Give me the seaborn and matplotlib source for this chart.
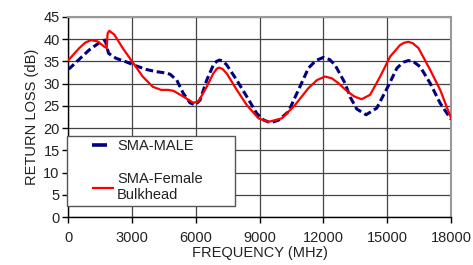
import matplotlib
matplotlib.use("Agg")
import matplotlib.pyplot as plt
import seaborn as sns
import pandas as pd
from matplotlib.lines import Line2D
from matplotlib.legend_handler import HandlerBase

male_freq = [0, 90, 530, 1000, 1470, 1750, 1820, 1910, 2260, 2730, 3200, 3670, 4140,
             4600, 4800, 5110, 5420, 5735, 5970, 6205, 6520, 6830, 6980, 7115, 7280,
             7460, 7930, 8400, 8870, 9200, 9520, 9900, 10360, 10830, 11300, 11650,
             12000, 12300, 12550, 13020, 13260, 13570, 14010, 14510, 15000, 15460,
             15750, 16000, 16250, 16550, 17020, 17490, 18000]
male_rl = [33.3, 33.5, 35.5, 37.6, 39.2, 39.8, 38.3, 36.8, 35.7, 34.9, 34.0, 33.2, 32.7,
           32.4, 32.1, 30.8, 27.8, 25.7, 25.2, 26.3, 30.8, 34.2, 35.0, 35.3, 35.1,
           34.2, 30.8, 27.1, 23.3, 21.8, 21.2, 21.8, 23.7, 28.6, 33.5, 35.2,
           35.9, 35.4, 34.2, 30.1, 27.0, 24.3, 23.0, 24.5, 29.0, 33.5,
           34.8, 35.2, 34.9, 33.8, 30.1, 25.6, 22.0]

female_freq = [0, 530, 800, 1080, 1390, 1710, 1820, 1860, 1940, 2180, 2570, 3010, 3510,
               3980, 4370, 4700, 4950, 5420, 5890, 6130, 6520, 6830, 7000, 7115, 7260,
               7460, 7930, 8400, 8950, 9420, 10050, 10670, 11300, 11700, 12080, 12400,
               12710, 13000, 13260, 13460, 13800, 14200, 14670, 15140, 15610, 15800,
               16000, 16200, 16470, 17020, 17490, 18000]
female_rl = [35.2, 38.0, 39.2, 39.8, 39.5, 38.3, 38.0, 41.3, 41.9, 41.0, 38.0, 35.0, 31.6,
             29.3, 28.6, 28.6, 28.4, 27.1, 25.7, 26.0, 29.3, 32.3, 33.4, 33.6, 33.3,
             32.3, 28.6, 25.2, 22.2, 21.4, 22.2, 25.2, 29.0, 30.8, 31.6, 31.2,
             30.1, 28.8, 27.8, 27.1, 26.5, 27.5, 31.6, 36.1, 38.7, 39.2,
             39.4, 39.1, 38.0, 33.1, 28.6, 22.3]

x_ticks = [0, 3000, 6000, 9000, 12000, 15000, 18000]
y_ticks = [0, 5, 10, 15, 20, 25, 30, 35, 40, 45]
labels = ["SMA-MALE", "SMA-Female\nBulkhead"]

sns.set_style("white")
plt.rcParams["font.family"] = ["Liberation Sans", "DejaVu Sans"]

fig = plt.figure(figsize=(4.73, 2.65), dpi=100)
ax = fig.add_axes([0.1438, 0.181, 0.8097, 0.755])

df_m = pd.DataFrame({"f": male_freq, "rl": male_rl})
df_f = pd.DataFrame({"f": female_freq, "rl": female_rl})

sns.lineplot(data=df_m, x="f", y="rl", ax=ax, color="#000080", lw=2.2,
             zorder=3, legend=False)
ax.lines[-1].set_dashes([2.5, 1.2])
ax.lines[-1].set_solid_joinstyle("round")
sns.lineplot(data=df_f, x="f", y="rl", ax=ax, color="#ff0000", lw=1.6,
             zorder=4, legend=False)
ax.lines[-1].set_solid_joinstyle("round")

ax.set_xlim(0, 18000)
ax.set_ylim(0, 45)
ax.set_xticks(x_ticks)
ax.set_yticks(y_ticks)
ax.grid(True, color="#444444", lw=0.9)
ax.set_axisbelow(True)
for s in ["top", "right"]:
    ax.spines[s].set_color("#999999")
    ax.spines[s].set_linewidth(1.5)
for s in ["left", "bottom"]:
    ax.spines[s].set_color("black")
    ax.spines[s].set_linewidth(1.0)
ax.tick_params(axis="both", direction="out", length=4, width=1, color="black",
               labelsize=10.5, labelcolor="#222222", pad=6, left=True, bottom=True)
ax.tick_params(axis="y", pad=2)
ax.set_xlabel("FREQUENCY (MHz)", fontsize=10.5, color="#222222", labelpad=1)
ax.set_ylabel("RETURN LOSS (dB)", fontsize=10.5, color="#222222", labelpad=3)


class OffsetLine(HandlerBase):
    def __init__(self, frac0, frac1, **kw):
        super().__init__()
        self.frac0, self.frac1, self.kw = frac0, frac1, kw

    def create_artists(self, legend, orig_handle, xdescent, ydescent, width,
                       height, fontsize, trans):
        x0 = -xdescent
        y = height / 2 - ydescent
        ln = Line2D([x0 + self.frac0 * width, x0 + self.frac1 * width], [y, y],
                    transform=trans, solid_capstyle="butt", **self.kw)
        return [ln]


h_m = Line2D([], [], color="#000080")
h_f = Line2D([], [], color="#ff0000")
leg = ax.legend([h_m, h_f], labels, loc="lower left",
                bbox_to_anchor=(-0.003, 0.055, 0.44, 0.36), mode="expand",
                frameon=True, fancybox=False, fontsize=10.5,
                handlelength=3.0, handletextpad=0.2, labelspacing=1.3,
                borderpad=0.25, borderaxespad=0,
                handler_map={h_m: OffsetLine(0.5, 0.84, color="#000080", lw=2.6),
                             h_f: OffsetLine(0.5, 1.0, color="#ff0000", lw=1.6)})
leg.get_frame().set_edgecolor("#555555")
leg.get_frame().set_linewidth(1.0)
leg.get_frame().set_facecolor("white")
leg.get_frame().set_alpha(1)
leg.set_zorder(10)
for t in leg.get_texts():
    t.set_color("#222222")

fig.savefig("out.png", dpi=100)
